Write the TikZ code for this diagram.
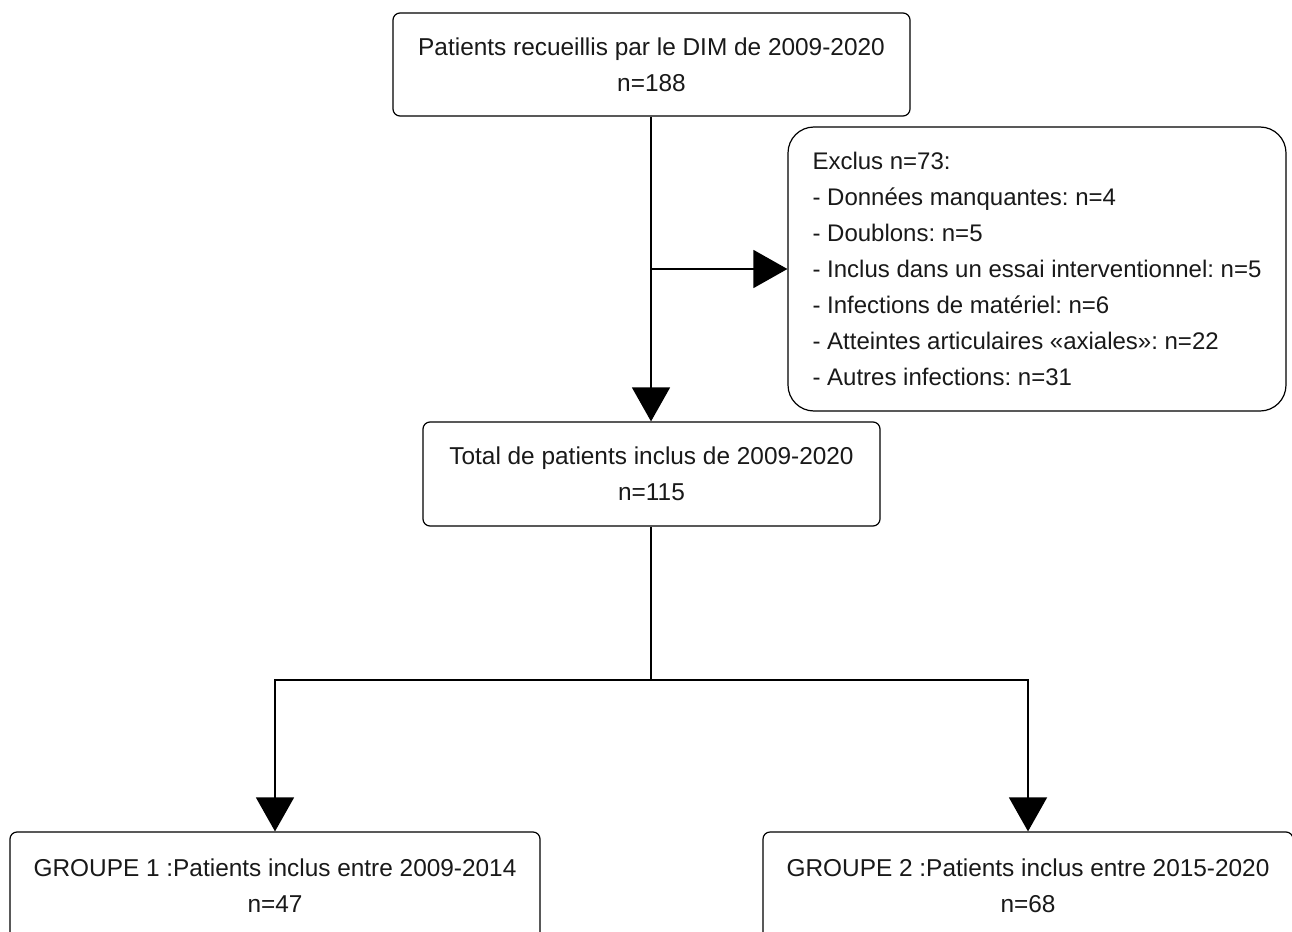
\documentclass[tikz,border=0pt]{standalone}
\usepackage{fontspec}
\setmainfont{Liberation Sans}
\usetikzlibrary{arrows.meta}
\frenchspacing
\begin{document}
\begin{tikzpicture}[x=1pt,y=-1pt,
  box/.style={draw, line width=1.2pt, rounded corners=7pt, align=center, inner sep=0pt,
    font=\fontsize{24.4}{36}\selectfont\frenchspacing, text=black!90},
  conn/.style={line width=1.5pt, -{Triangle[length=34pt,width=38pt]}},
  plain/.style={line width=1.5pt}]
\path[use as bounding box, clip] (0,0) rectangle (1292,931);
\fill[white] (0,0) rectangle (1292,931);
\node[box, minimum width=517pt, minimum height=103pt] (top) at (651.5,64.5)
  {Patients recueillis par le DIM de 2009-2020\\n=188};
\node[box, rounded corners=26pt, minimum width=498pt, minimum height=284pt,
  align=left, font=\fontsize{24}{36}\selectfont\frenchspacing] (excl) at (1037,269)
  {Exclus n=73:\\
   - Données manquantes: n=4\\
   - Doublons: n=5\\
   - Inclus dans un essai interventionnel: n=5\\
   - Infections de matériel: n=6\\
   - Atteintes articulaires «axiales»: n=22\\
   - Autres infections: n=31};
\node[box, minimum width=457pt, minimum height=104pt] (total) at (651.5,474)
  {Total de patients inclus de 2009-2020\\n=115};
\node[box, minimum width=530pt, minimum height=108pt] (g1) at (275,886)
  {GROUPE 1 :Patients inclus entre 2009-2014\\n=47};
\node[box, minimum width=530pt, minimum height=108pt] (g2) at (1028,886)
  {GROUPE 2 :Patients inclus entre 2015-2020\\n=68};
\coordinate (br) at (651,269);
\coordinate (split) at (651,680);
\draw[conn] (top.south -| br) -- (total.north -| br);
\draw[conn] (br) -- (excl.west |- br);
\draw[plain] (total.south -| split) -- (split);
\draw[conn] (split) -| (g1.north);
\draw[conn] (split) -| (g2.north);
\end{tikzpicture}
\end{document}
